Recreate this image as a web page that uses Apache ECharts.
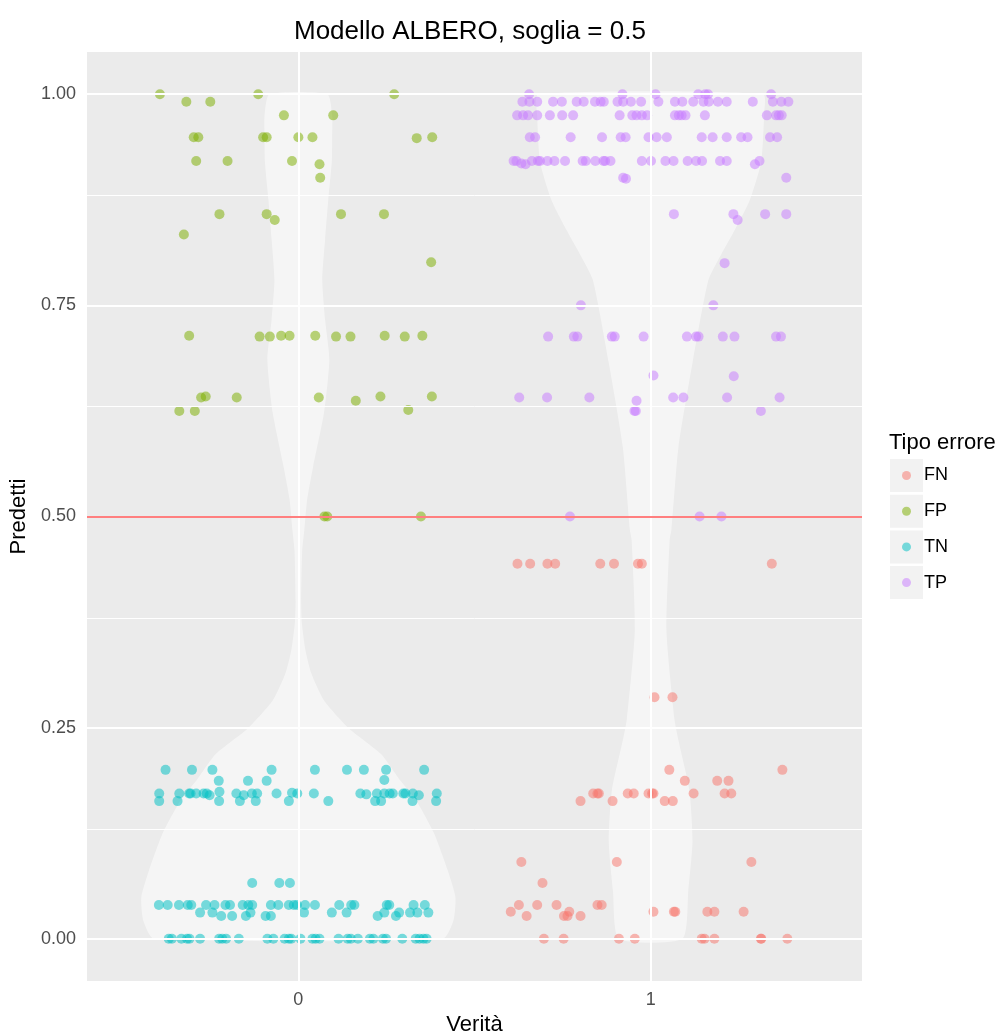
<!DOCTYPE html>
<html>
<head>
<meta charset="utf-8">
<script src="https://cdn.jsdelivr.net/npm/echarts@6/dist/echarts.min.js"></script>
<style>html,body{margin:0;padding:0;background:#fff}#c{width:1003px;height:1034px}</style>
</head>
<body>
<div id="c"></div>
<script>
// ---------- data ----------
const categories = ['0', '1'];
const xTicks = [0, 1];
const yTicks = [0, 0.25, 0.5, 0.75, 1];
const yTickLabels = ['0.00', '0.25', '0.50', '0.75', '1.00'];
const yMinor = [0.125, 0.375, 0.625, 0.875];
const threshold = 0.5;
const types = ['FN', 'FP', 'TN', 'TP'];

const fnPoints = [
  [0.622,0.444],[0.658,0.444],[0.707,0.444],[0.729,0.444],[0.857,0.444],[0.896,0.444],[0.964,0.444],[0.975,0.444],[1.344,0.444],
  [1.011,0.286],[1.062,0.286],
  [1.053,0.200],[1.374,0.200],
  [1.097,0.187],[1.189,0.187],[1.221,0.187],
  [0.837,0.172],[0.849,0.172],[0.853,0.172],[0.935,0.172],[0.952,0.172],[0.994,0.172],[1.004,0.172],[1.008,0.172],[1.122,0.172],[1.210,0.172],[1.229,0.172],
  [0.801,0.163],[0.892,0.163],[1.040,0.163],[1.063,0.163],
  [0.633,0.091],[0.904,0.091],[1.286,0.091],
  [0.693,0.066],
  [0.626,0.040],[0.678,0.040],[0.733,0.040],[0.849,0.040],[0.861,0.040],
  [0.603,0.032],[0.769,0.032],[1.008,0.032],[1.066,0.032],[1.070,0.032],[1.161,0.032],[1.181,0.032],[1.264,0.032],
  [0.648,0.027],[0.754,0.027],[0.764,0.027],[0.801,0.027],
  [0.697,0.0],[0.753,0.0],[0.910,0.0],[0.955,0.0],[1.145,0.0],[1.153,0.0],[1.181,0.0],[1.313,0.0],[1.314,0.0],[1.388,0.0]
];

const fpPoints = [
  [-0.393,1.0],[-0.318,0.991],[-0.25,0.991],[-0.114,1.0],[0.272,1.0],
  [-0.041,0.975],[0.099,0.975],
  [-0.297,0.949],[-0.284,0.949],[-0.100,0.949],[-0.090,0.949],[0.0,0.949],[0.040,0.949],[0.336,0.948],[0.380,0.949],
  [-0.290,0.921],[-0.201,0.921],[-0.018,0.921],[0.060,0.917],[0.062,0.901],
  [-0.224,0.858],[-0.090,0.858],[-0.067,0.851],[0.121,0.858],[0.243,0.858],
  [-0.325,0.834],[0.377,0.801],
  [-0.310,0.714],[-0.110,0.713],[-0.081,0.713],[-0.049,0.714],[-0.025,0.714],[0.048,0.714],[0.107,0.713],[0.148,0.713],[0.245,0.714],[0.302,0.713],[0.352,0.714],
  [-0.276,0.641],[-0.263,0.642],[-0.175,0.641],[0.058,0.641],[0.163,0.637],[0.233,0.642],[0.379,0.642],
  [-0.338,0.625],[-0.294,0.625],[0.312,0.626],
  [0.074,0.5],[0.082,0.5],[0.348,0.5]
];

const tnPoints = [
  [-0.377,0.2],[-0.302,0.2],[-0.244,0.2],[-0.076,0.2],[0.047,0.2],[0.138,0.2],[0.186,0.2],[0.249,0.2],[0.357,0.2],
  [-0.226,0.187],[-0.143,0.187],[-0.090,0.187],[0.244,0.188],
  [-0.395,0.172],[-0.338,0.172],[-0.310,0.172],[-0.306,0.172],[-0.290,0.172],[-0.269,0.172],[-0.260,0.172],[-0.252,0.170],[-0.224,0.174],[-0.176,0.172],
  [-0.155,0.170],[-0.132,0.172],[-0.117,0.172],[-0.062,0.172],[-0.018,0.173],[-0.003,0.172],[0.044,0.172],[0.176,0.172],[0.193,0.171],[0.223,0.172],
  [0.244,0.172],[0.259,0.172],[0.268,0.172],[0.298,0.172],[0.304,0.172],[0.325,0.172],[0.342,0.170],[0.393,0.172],
  [-0.395,0.163],[-0.343,0.163],[-0.225,0.163],[-0.166,0.163],[-0.121,0.163],[-0.027,0.163],[0.085,0.163],[0.218,0.163],[0.235,0.163],[0.324,0.163],[0.391,0.163],
  [-0.131,0.066],[-0.054,0.066],[-0.024,0.066],
  [-0.396,0.040],[-0.371,0.040],[-0.339,0.040],[-0.314,0.040],[-0.304,0.040],[-0.262,0.040],[-0.238,0.040],[-0.207,0.040],[-0.194,0.040],[-0.158,0.040],
  [-0.142,0.040],[-0.131,0.040],[-0.078,0.040],[-0.057,0.040],[-0.027,0.040],[-0.013,0.040],[-0.004,0.040],[0.019,0.040],[0.047,0.040],[0.116,0.040],
  [0.150,0.040],[0.159,0.040],[0.251,0.040],[0.258,0.040],[0.327,0.040],[0.359,0.040],
  [-0.279,0.031],[-0.244,0.031],[-0.136,0.031],[0.016,0.031],[0.095,0.031],[0.137,0.031],[0.244,0.031],[0.286,0.031],[0.317,0.031],[0.338,0.031],[0.369,0.031],
  [-0.219,0.027],[-0.188,0.027],[-0.149,0.027],[-0.093,0.027],[-0.078,0.027],[0.225,0.027],[0.277,0.027],
  [-0.368,0.0],[-0.359,0.0],[-0.332,0.0],[-0.316,0.0],[-0.309,0.0],[-0.279,0.0],[-0.225,0.0],[-0.216,0.0],[-0.205,0.0],[-0.169,0.0],[-0.088,0.0],
  [-0.071,0.0],[-0.039,0.0],[-0.027,0.0],[-0.020,0.0],[0.006,0.0],[0.040,0.0],[0.049,0.0],[0.060,0.0],[0.114,0.0],[0.140,0.0],[0.149,0.0],
  [0.169,0.0],[0.203,0.0],[0.213,0.0],[0.240,0.0],[0.249,0.0],[0.295,0.0],[0.333,0.0],[0.344,0.0],[0.355,0.0],[0.364,0.0]
];

const tpPoints = [
  [0.655,1.0],[0.920,1.0],[1.014,1.0],[1.135,1.0],[1.155,1.0],[1.163,1.0],[1.342,1.0],
  [0.636,0.991],[0.656,0.991],[0.678,0.991],[0.723,0.991],[0.748,0.991],[0.790,0.991],[0.810,0.991],[0.842,0.991],[0.858,0.991],[0.867,0.991],
  [0.906,0.991],[0.922,0.991],[0.944,0.991],[0.973,0.991],[1.022,0.991],[1.069,0.991],[1.090,0.991],[1.121,0.991],[1.150,0.991],[1.165,0.991],
  [1.191,0.991],[1.216,0.991],[1.290,0.991],[1.347,0.991],[1.371,0.991],[1.391,0.991],
  [0.621,0.975],[0.638,0.975],[0.652,0.975],[0.678,0.975],[0.714,0.975],[0.749,0.975],[0.780,0.975],[0.912,0.975],[0.948,0.975],[0.960,0.975],
  [0.975,0.975],[0.990,0.975],[1.069,0.975],[1.080,0.975],[1.088,0.975],[1.099,0.975],[1.154,0.975],[1.330,0.975],[1.356,0.975],[1.364,0.975],[1.372,0.975],
  [0.657,0.949],[0.672,0.949],[0.773,0.949],[0.862,0.949],[0.915,0.949],[0.929,0.949],[0.994,0.949],[1.017,0.949],[1.046,0.949],[1.145,0.949],
  [1.176,0.949],[1.216,0.949],[1.257,0.949],[1.275,0.949],[1.339,0.949],[1.359,0.949],
  [0.611,0.921],[0.619,0.921],[0.633,0.918],[0.645,0.917],[0.663,0.921],[0.680,0.921],[0.686,0.921],[0.707,0.921],[0.727,0.921],[0.757,0.921],
  [0.807,0.921],[0.816,0.921],[0.843,0.921],[0.866,0.921],[0.871,0.921],[0.886,0.921],[0.975,0.921],[1.001,0.921],[1.042,0.921],[1.065,0.921],
  [1.105,0.921],[1.129,0.921],[1.146,0.921],[1.197,0.921],[1.216,0.921],[1.296,0.917],[1.309,0.921],
  [0.922,0.901],[0.930,0.900],[1.385,0.901],
  [1.066,0.858],[1.235,0.858],[1.325,0.858],[1.385,0.858],[1.247,0.851],
  [1.210,0.800],
  [0.802,0.750],[1.178,0.750],
  [0.709,0.713],[0.782,0.713],[0.792,0.713],[0.890,0.713],[0.898,0.713],[0.980,0.713],[1.103,0.713],[1.129,0.713],[1.136,0.713],[1.205,0.713],
  [1.238,0.713],[1.356,0.713],[1.370,0.713],
  [1.008,0.667],[1.236,0.666],
  [0.627,0.641],[0.706,0.641],[0.826,0.641],[1.064,0.641],[1.093,0.641],[1.217,0.641],[1.366,0.641],[0.960,0.637],
  [0.954,0.625],[0.958,0.625],[1.313,0.625],
  [0.771,0.5],[1.139,0.5],[1.201,0.5]
];

// violin outlines: half-widths (in x units) at given predicted values
const violin0Y = [1.0,0.975,0.949,0.92,0.875,0.828,0.78,0.733,0.686,0.623,0.559,0.52,0.484,0.46,0.40,0.374,0.342,0.314,0.282,0.25,0.219,0.187,0.164,0.126,0.081,0.049,0.021,0.0];
const violin0W = [0.082,0.096,0.096,0.095,0.085,0.076,0.068,0.076,0.088,0.073,0.042,0.025,0.017,0.011,0.008,0.010,0.020,0.037,0.073,0.141,0.234,0.290,0.334,0.384,0.424,0.446,0.440,0.410];
const violin1Y = [1.0,0.975,0.92,0.875,0.84,0.81,0.78,0.682,0.582,0.484,0.472,0.365,0.259,0.235,0.176,0.116,0.057,0.0];
const violin1W = [0.319,0.322,0.314,0.282,0.240,0.200,0.164,0.119,0.079,0.059,0.054,0.045,0.068,0.079,0.110,0.119,0.107,0.090];

// ---------- chart ----------
const FF = '"Liberation Sans", Arial, Helvetica, sans-serif';
const colors = {FN: '#F8766D', FP: '#7CAE00', TN: '#00BFC4', TP: '#C77CFF'};
const pointSets = {FN: fnPoints, FP: fpPoints, TN: tnPoints, TP: tpPoints};

const chart = echarts.init(document.getElementById('c'), null, {renderer: 'canvas', width: 1003, height: 1034});

const gridLineData = []
  .concat(yMinor.map(v => ({yAxis: v, lineStyle: {color: '#ffffff', width: 1, type: 'solid'}})))
  .concat(yTicks.map(v => ({yAxis: v, lineStyle: {color: '#ffffff', width: 2, type: 'solid'}})))
  .concat(xTicks.map(v => ({xAxis: v, lineStyle: {color: '#ffffff', width: 2, type: 'solid'}})));

const option = {
  animation: false,
  backgroundColor: '#ffffff',
  textStyle: {fontFamily: FF},
  title: [
    {text: 'Modello ALBERO, soglia = 0.5', left: 294, top: 19, padding: 0,
     textStyle: {fontFamily: FF, fontSize: 26, fontWeight: 'normal', color: '#000'}},
    {text: 'Tipo errore', left: 889, top: 432, padding: 0,
     textStyle: {fontFamily: FF, fontSize: 22, fontWeight: 'normal', color: '#000'}}
  ],
  grid: {left: 87, right: 141, top: 52, bottom: 53, show: true, backgroundColor: '#EBEBEB', borderWidth: 0,
         containLabel: false, outerBoundsMode: 'none'},
  xAxis: {
    type: 'value', min: -0.6, max: 1.6,
    name: 'Verità', nameLocation: 'middle', nameGap: 30,
    nameTextStyle: {fontFamily: FF, fontSize: 22, color: '#000'},
    axisLine: {show: false},
    splitLine: {show: false},
    axisTick: {show: true, customValues: xTicks, length: 5, lineStyle: {color: '#333333', width: 1.5}},
    axisLabel: {customValues: xTicks, formatter: v => categories[xTicks.indexOf(v)], margin: 10,
                fontFamily: FF, fontSize: 18, color: '#4D4D4D'}
  },
  yAxis: {
    type: 'value', min: -0.05, max: 1.05,
    name: 'Predetti', nameLocation: 'middle', nameGap: 44, nameRotate: 90,
    nameTextStyle: {fontFamily: FF, fontSize: 22, color: '#000'},
    axisLine: {show: false},
    splitLine: {show: false},
    axisTick: {show: true, customValues: yTicks, length: 5, lineStyle: {color: '#333333', width: 1.5}},
    axisLabel: {customValues: yTicks, formatter: v => yTickLabels[yTicks.indexOf(v)], margin: 11,
                fontFamily: FF, fontSize: 18, color: '#4D4D4D'}
  },
  legend: {
    data: types, orient: 'vertical', left: 902, top: 466.5, padding: 0,
    itemWidth: 9, itemHeight: 9, itemGap: 17.7, icon: 'circle',
    textStyle: {fontFamily: FF, fontSize: 18, lineHeight: 18, color: '#000', padding: [0, 0, 0, 8]}
  },
  graphic: types.map((t, i) => ({
    type: 'rect', left: 890, top: 459 + i * 35.7, z: 0, silent: true,
    shape: {width: 33, height: 33}, style: {fill: '#F2F2F2'}
  })),
  series: [
    {
      type: 'line', data: [], z: 1, silent: true,
      markLine: {silent: true, symbol: ['none', 'none'], label: {show: false}, animation: false,
                 emphasis: {disabled: true}, data: gridLineData}
    },
    {
      type: 'custom', z: 2, silent: true, clip: true,
      data: [[0, 0], [1, 0]],
      renderItem: function (params, api) {
        const c = api.value(0);
        const Y = c === 0 ? violin0Y : violin1Y;
        const W = c === 0 ? violin0W : violin1W;
        const pts = [];
        for (let i = 0; i < Y.length; i++) pts.push(api.coord([c + W[i], Y[i]]));
        for (let i = Y.length - 1; i >= 0; i--) pts.push(api.coord([c - W[i], Y[i]]));
        return {type: 'polygon', shape: {points: pts, smooth: 0.2}, style: {fill: 'rgba(255,255,255,0.5)', stroke: null}};
      }
    }
  ].concat(types.map(t => ({
    name: t, type: 'scatter', data: pointSets[t], z: 3, symbol: 'circle', symbolSize: 10,
    itemStyle: {color: colors[t], opacity: 0.52}, emphasis: {disabled: true}
  }))).concat([
    {
      type: 'line', data: [], z: 4, silent: true,
      markLine: {silent: true, symbol: ['none', 'none'], label: {show: false}, animation: false,
                 emphasis: {disabled: true},
                 data: [{yAxis: threshold, lineStyle: {color: 'rgba(255,0,0,0.5)', width: 2, type: 'solid'}}]}
    }
  ])
};

chart.setOption(option);
</script>
</body>
</html>
